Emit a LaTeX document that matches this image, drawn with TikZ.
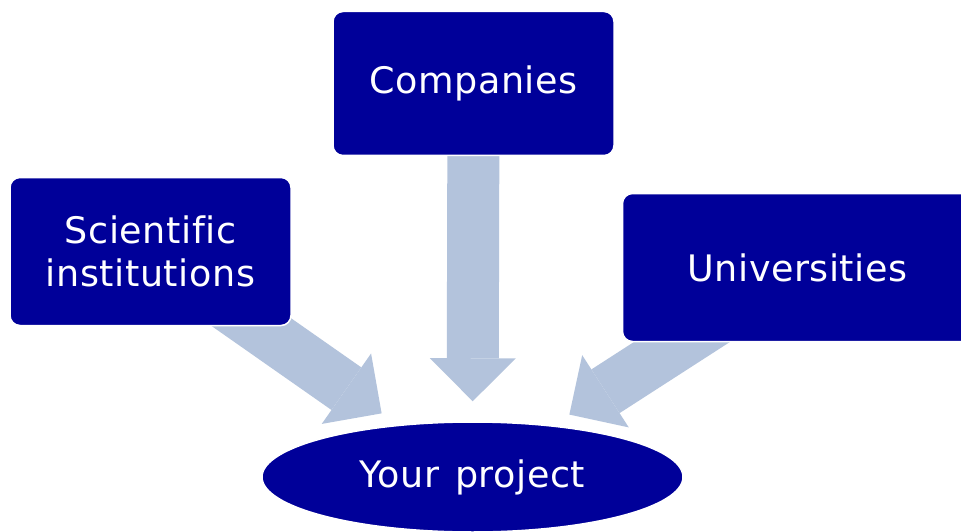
\documentclass[tikz,border=0pt]{standalone}
\usepackage{fontspec}
\setmainfont{DejaVu Sans}[Ligatures=NoCommon,LetterSpace=1.5,WordSpace=1.3]
\usetikzlibrary{arrows.meta,shapes.geometric,backgrounds}
\newlength{\du}
\setlength{\du}{1pt}
\definecolor{boxblue}{rgb}{0.000000, 0.000000, 0.600000}
\definecolor{bandblue}{rgb}{0.701961, 0.764706, 0.862745}
\tikzset{
  blockbox/.style={rectangle, rounded corners=10\du, fill=boxblue, draw=white,
    line width=1.5\du, text=white, inner sep=0pt, align=center,
    font=\fontsize{36.5}{42.5}\selectfont},
  blockoval/.style={blockbox, ellipse, rounded corners=0pt},
  % tip sizes in pt (1\du = 1pt)
  bandarrow/.style={draw=bandblue, line width=52\du, line cap=butt,
    -{Triangle[width=86pt,length=43pt,line width=0pt]}, shorten >=20\du}
}

\begin{document}
\begin{tikzpicture}
\pgftransformxscale{1.000000}
\pgftransformyscale{-1.000000}
\useasboundingbox (0\du,0\du) rectangle (961\du,532\du);
\clip (0\du,0\du) rectangle (961\du,532\du);
% sources
\node[blockbox, minimum width=281\du, minimum height=144\du] (companies) at (473.5\du,83.5\du) {Companies};
\node[blockbox, minimum width=281\du, minimum height=148\du] (scientific) at (150.5\du,251.5\du) {Scientific\\institutions};
\node[blockbox, minimum width=350\du, minimum height=148\du] (universities) at (797.5\du,267.5\du) {Universities};
% target
\node[blockoval, minimum width=421\du, minimum height=110\du] (project) at (472.5\du,477.000000\du) {Your project};
% was here!!!
\begin{scope}[on background layer]
\draw[bandarrow] (companies.center) -- (project);
\draw[bandarrow] (scientific.center) -- (project);
\draw[bandarrow] (universities.center) -- (project);
\end{scope}
\end{tikzpicture}
\end{document}
